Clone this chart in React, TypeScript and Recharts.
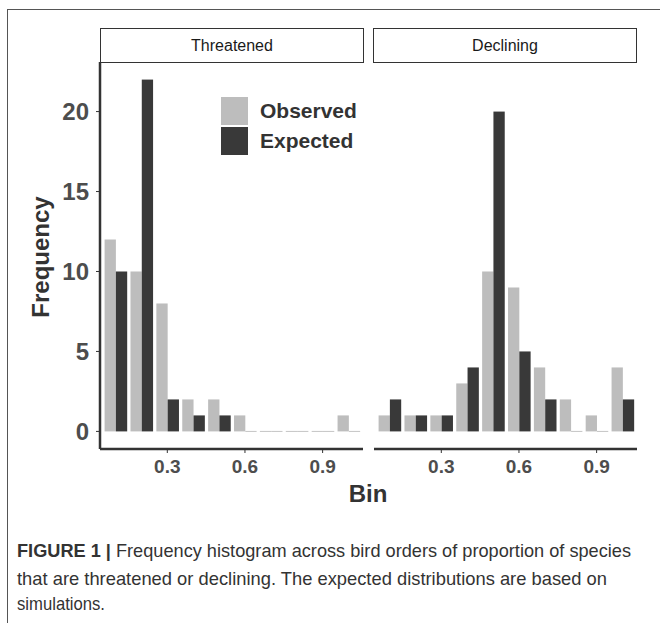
import { BarChart, Bar, XAxis, YAxis, Legend } from 'recharts';

// histogram bins (centre of each 0.1-wide bin)
const bins = [0.1, 0.2, 0.3, 0.4, 0.5, 0.6, 0.7, 0.8, 0.9, 1.0];
const threatenedObserved = [12, 10, 8, 2, 2, 1, 0, 0, 0, 1];
const threatenedExpected = [10, 22, 2, 1, 1, 0, 0, 0, 0, 0];
const decliningObserved = [1, 1, 1, 3, 10, 9, 4, 2, 1, 4];
const decliningExpected = [2, 1, 1, 4, 20, 5, 2, 0, 0, 2];
const xTicks = [0.3, 0.6, 0.9];
const yTicks = [0, 5, 10, 15, 20];
const panels = ['Threatened', 'Declining'];

const OBS = '#bdbdbd';
const EXP = '#393939';
const AXIS = '#333333';
const TICK_TEXT = '#4d4d4d';
const FONT = '"Liberation Sans", Arial, sans-serif';

const toRows = (obs: number[], exp: number[]) =>
  bins.map((bin, i) => ({ bin, observed: obs[i], expected: exp[i] }));

const threatenedData = toRows(threatenedObserved, threatenedExpected);
const decliningData = toRows(decliningObserved, decliningExpected);

// ggplot draws zero-height bars as a hairline, so do the same
const BarShape = (props: any) => {
  const { x, y, width, height, fill } = props;
  if (!height || Math.abs(height) < 0.5) {
    return <line x1={x} x2={x + width} y1={y} y2={y} stroke="#c4c4c4" strokeWidth={1} />;
  }
  return <rect x={x} y={y} width={width} height={height} fill={fill} />;
};

const LegendBox = () => (
  <div style={{ fontFamily: FONT, fontWeight: 700, fontSize: 21, color: '#333' }}>
    {[
      ['Observed', OBS],
      ['Expected', EXP],
    ].map(([name, color]) => (
      <div key={name} style={{ display: 'flex', alignItems: 'center', height: 30 }}>
        <div style={{ width: 27, height: 28, background: color, marginRight: 12 }} />
        <span>{name}</span>
      </div>
    ))}
  </div>
);

const xAxisProps = {
  dataKey: 'bin',
  type: 'number' as const,
  domain: [0.04, 1.056],
  ticks: xTicks,
  height: 31,
  tickSize: 4,
  tickMargin: 7,
  axisLine: { stroke: AXIS, strokeWidth: 2.5 },
  tickLine: { stroke: AXIS, strokeWidth: 1 },
  tick: { fill: TICK_TEXT, fontSize: 19, fontWeight: 700, fontFamily: FONT },
  allowDataOverflow: true,
};

function Strip({ label, left }: { label: string; left: number }) {
  return (
    <div
      style={{
        position: 'absolute',
        left,
        top: 28,
        width: 264,
        height: 35,
        boxSizing: 'border-box',
        border: '1px solid #333',
        background: '#fff',
        display: 'flex',
        alignItems: 'center',
        justifyContent: 'center',
        fontFamily: FONT,
        fontSize: 16,
        color: '#1a1a1a',
      }}
    >
      {label}
    </div>
  );
}

export default function App() {
  return (
    <div
      style={{
        position: 'absolute',
        left: 0,
        top: 0,
        width: 660,
        height: 623,
        background: '#fff',
        overflow: 'hidden',
      }}
    >
      <div style={{ position: 'absolute', left: 0, top: 0 }}>
        <BarChart
          width={370}
          height={480}
          data={threatenedData}
          margin={{ top: 62, right: 7, bottom: 0, left: 0 }}
          barGap={0}
        >
          <XAxis {...xAxisProps} />
          <YAxis
            type="number"
            domain={[-1.1, 23.1]}
            ticks={yTicks}
            width={100}
            tickSize={4}
            tickMargin={7}
            axisLine={{ stroke: AXIS, strokeWidth: 2.5 }}
            tickLine={{ stroke: AXIS, strokeWidth: 1 }}
            tick={{ fill: TICK_TEXT, fontSize: 24, fontWeight: 700, fontFamily: FONT }}
            allowDataOverflow
          />
          <Legend
            layout="horizontal"
            verticalAlign="middle"
            align="center"
            content={() => <LegendBox />}
            wrapperStyle={{ left: 221, top: 96, width: 'auto', height: 'auto' }}
          />
          <Bar dataKey="observed" name="Observed" fill={OBS} barSize={11.3} shape={BarShape} isAnimationActive={false} />
          <Bar dataKey="expected" name="Expected" fill={EXP} barSize={11.3} shape={BarShape} isAnimationActive={false} />
        </BarChart>
      </div>

      <div style={{ position: 'absolute', left: 363, top: 0 }}>
        <BarChart
          width={297}
          height={480}
          data={decliningData}
          margin={{ top: 62, right: 23, bottom: 0, left: 11 }}
          barGap={0}
        >
          <XAxis {...xAxisProps} />
          <YAxis type="number" domain={[-1.1, 23.1]} ticks={yTicks} hide allowDataOverflow />
          <Bar dataKey="observed" fill={OBS} barSize={11.3} shape={BarShape} isAnimationActive={false} />
          <Bar dataKey="expected" fill={EXP} barSize={11.3} shape={BarShape} isAnimationActive={false} />
        </BarChart>
      </div>

      <Strip label={panels[0]} left={100} />
      <Strip label={panels[1]} left={373} />

      <svg
        width={660}
        height={623}
        style={{ position: 'absolute', left: 0, top: 0, pointerEvents: 'none' }}
      >
        <line x1={7} y1={9.5} x2={660} y2={9.5} stroke="#555" strokeWidth={1} />
        <line x1={7.5} y1={9} x2={7.5} y2={623} stroke="#555" strokeWidth={1} />
        <text
          x={40}
          y={257}
          transform="rotate(-90 40 257)"
          textAnchor="middle"
          dominantBaseline="central"
          fontFamily={FONT}
          fontWeight={700}
          fontSize={24}
          fill="#333"
        >
          Frequency
        </text>
        <text
          x={368}
          y={493}
          textAnchor="middle"
          dominantBaseline="central"
          fontFamily={FONT}
          fontWeight={700}
          fontSize={24}
          fill="#333"
        >
          Bin
        </text>
        <text x={17} y={557} fontFamily={FONT} fontSize={19} fill="#333" textLength={614} lengthAdjust="spacingAndGlyphs">
          <tspan fontWeight={700}>FIGURE 1 |</tspan> Frequency histogram across bird orders of proportion of species
        </text>
        <text x={17} y={585} fontFamily={FONT} fontSize={19} fill="#333" textLength={590} lengthAdjust="spacingAndGlyphs">
          that are threatened or declining. The expected distributions are based on
        </text>
        <text x={17} y={610} fontFamily={FONT} fontSize={19} fill="#333" textLength={88} lengthAdjust="spacingAndGlyphs">
          simulations.
        </text>
      </svg>
    </div>
  );
}
